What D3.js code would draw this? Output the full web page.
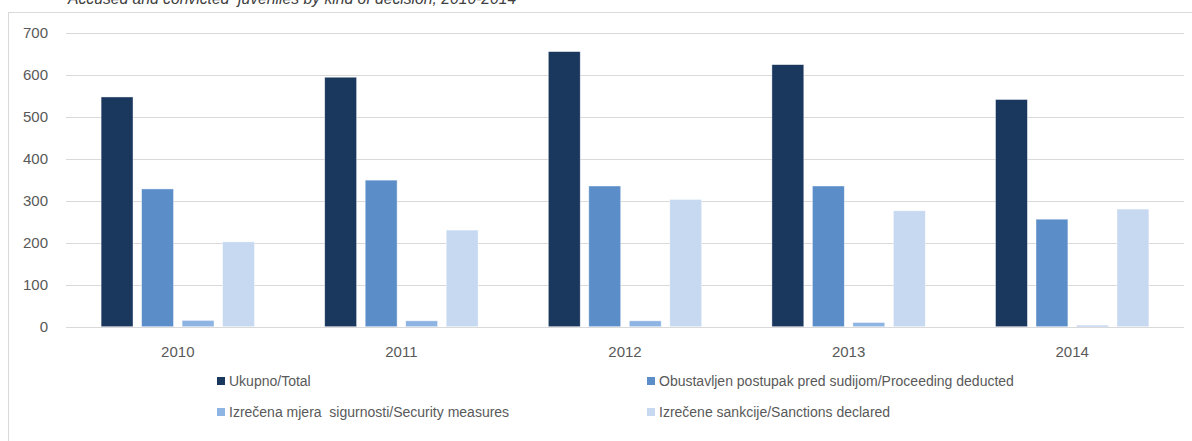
<!DOCTYPE html>
<meta charset="utf-8">
<style>
body { margin: 0; background: #fff; }
text { font-family: "Liberation Sans", Arial, sans-serif; fill: #595959; white-space: pre; }
.grid line { stroke: #d9d9d9; stroke-width: 1.2px; }
</style>
<svg width="1192" height="441"></svg>
<script src="https://d3js.org/d3.v7.min.js"></script>
<script>
var years = ["2010", "2011", "2012", "2013", "2014"];
var seriesNames = [
  "Ukupno/Total",
  "Obustavljen postupak pred sudijom/Proceeding deducted",
  "Izrečena mjera  sigurnosti/Security measures",
  "Izrečene sankcije/Sanctions declared"
];
var total = [547, 594, 655, 624, 541];
var proceeding = [328, 349, 335, 335, 256];
var security = [15, 14, 14, 10, 3];
var sanctions = [202, 230, 303, 276, 280];
var yTicks = [0, 100, 200, 300, 400, 500, 600, 700];
var colors = ["#1a375e", "#5b8ec9", "#8eb4e3", "#c6d9f0"];

var svg = d3.select("svg"),
    width = +svg.attr("width"),
    height = +svg.attr("height");

var seriesValues = [total, proceeding, security, sanctions];

// frame
svg.append("rect")
    .attr("x", 8.5).attr("y", 12.5)
    .attr("width", 1300).attr("height", 600)
    .attr("fill", "none").attr("stroke", "#d9d9d9");

// title, cut off at the top like the source
svg.append("text")
    .attr("x", 68).attr("y", 4)
    .style("font-size", "15.7px")
    .style("font-style", "italic")
    .style("fill", "#404040")
    .text("Accused and convicted  juveniles by kind of decision, 2010-2014");

var x0 = d3.scaleBand().domain(years).range([66, 1184]).paddingInner(0.314).paddingOuter(0.157);
var x1 = d3.scaleBand().domain(d3.range(4)).range([0, x0.bandwidth()]).paddingInner(0.212);
var y = d3.scaleLinear().domain([0, 700]).range([326.7, 32.7]);

// gridlines
svg.append("g").attr("class", "grid")
  .selectAll("line")
  .data(yTicks)
  .enter().append("line")
    .attr("x1", 66).attr("x2", 1184)
    .attr("y1", function(d) { return Math.round(y(d)) + 0.5; })
    .attr("y2", function(d) { return Math.round(y(d)) + 0.5; });

// y labels
svg.append("g").selectAll("text")
  .data(yTicks)
  .enter().append("text")
    .attr("x", 48).attr("y", function(d) { return y(d); })
    .attr("dy", "0.35em")
    .attr("text-anchor", "end")
    .style("font-size", "15px")
    .text(function(d) { return d; });

// bars
var groups = svg.append("g").selectAll("g")
  .data(years)
  .enter().append("g")
    .attr("transform", function(d) { return "translate(" + x0(d) + ",0)"; });

groups.selectAll("rect")
  .data(function(d, i) { return seriesValues.map(function(s, k) { return {k: k, v: s[i]}; }); })
  .enter().append("rect")
    .attr("x", function(d) { return x1(d.k); })
    .attr("width", x1.bandwidth())
    .attr("y", function(d) { return y(d.v); })
    .attr("height", function(d) { return y(0) - y(d.v); })
    .attr("fill", function(d) { return colors[d.k]; })
    .attr("stroke", "#fff")
    .attr("stroke-opacity", 0.6)
    .attr("stroke-width", 0.7);

// x labels
svg.append("g").selectAll("text")
  .data(years)
  .enter().append("text")
    .attr("x", function(d) { return x0(d) + x0.bandwidth() / 2; })
    .attr("y", 352)
    .attr("dy", "0.35em")
    .attr("text-anchor", "middle")
    .style("font-size", "15px")
    .text(function(d) { return d; });

// legend
var legendPos = [[217, 381], [647, 381], [217, 412], [647, 412]];
var legend = svg.append("g").selectAll("g")
  .data(seriesNames)
  .enter().append("g")
    .attr("transform", function(d, i) { return "translate(" + legendPos[i][0] + "," + legendPos[i][1] + ")"; });

legend.append("rect")
    .attr("x", 0).attr("y", -4)
    .attr("width", 8).attr("height", 8)
    .attr("fill", function(d, i) { return colors[i]; });

legend.append("text")
    .attr("x", 12).attr("y", 0)
    .attr("dy", "0.35em")
    .style("font-size", "14px")
    .text(function(d) { return d; });
</script>
